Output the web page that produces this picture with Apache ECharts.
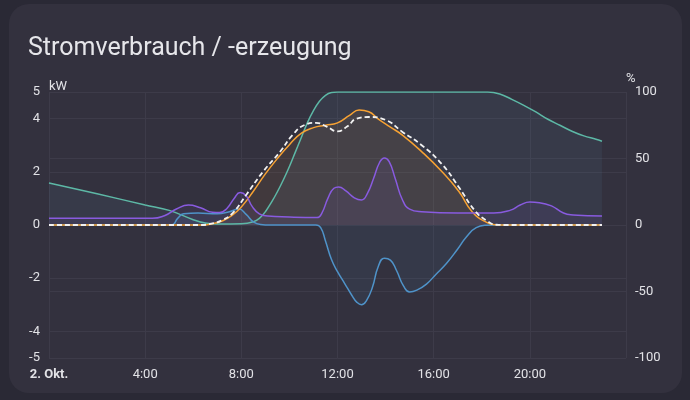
<!DOCTYPE html>
<html><head><meta charset="utf-8">
<script src="https://cdn.jsdelivr.net/npm/echarts@6/dist/echarts.min.js"></script>
<style>
html,body{margin:0;padding:0;background:#2a2935;width:690px;height:400px;overflow:hidden}
#card{position:absolute;left:9px;top:4px;width:673px;height:389px;background:#33313e;border-radius:20px}
#chart{position:absolute;left:0;top:0;width:690px;height:400px}
</style></head><body><div id="card"></div><div id="chart"></div>
<script>
// Battery state of charge (%), right axis
const socTimes  = [0, 2, 4, 5, 6, 6.5, 7, 8, 8.5, 8.75, 9, 9.25, 9.5, 9.75, 10, 10.25, 10.5, 10.75, 11, 11.25, 11.5, 11.75, 12, 18.25, 18.75, 19.25, 19.75, 20.25, 20.75, 21.25, 21.75, 22.25, 22.75, 23];
const socValues = [31.6, 23.5, 15, 11, 4, 1.5, 0.8, 1, 2.5, 5, 10, 17, 25, 34, 44, 55, 66, 77, 86, 93, 97.5, 99.6, 100, 100, 98.5, 94.5, 90, 85, 79.5, 75, 70.5, 67, 64.5, 63];
// Battery power (kW)
const batTimes  = [0, 5.1, 5.35, 5.6, 6.2, 7, 7.5, 7.9, 8.2, 8.5, 8.8, 9.2, 11.1, 11.3, 11.5, 11.75, 12.0, 12.3, 12.6, 12.8, 13.0, 13.2, 13.45, 13.7, 13.95, 14.2, 14.45, 14.75, 15.0, 15.3, 15.7, 16.1, 16.53, 17.0, 17.36, 17.77, 18.2, 18.6, 23];
const batValues = [0, 0, 0.25, 0.42, 0.45, 0.42, 0.5, 0.6, 0.4, 0.12, 0.02, 0, 0, -0.1, -0.6, -1.3, -1.75, -2.2, -2.65, -2.9, -3.0, -2.85, -2.35, -1.55, -1.25, -1.32, -1.7, -2.3, -2.52, -2.45, -2.22, -1.85, -1.45, -0.9, -0.45, -0.1, -0.01, 0, 0];
// Solar production (kW)
const pvTimes  = [0, 6.3, 6.8, 7.2, 7.6, 8, 8.5, 9, 9.5, 10, 10.5, 11, 11.5, 12, 12.5, 12.9, 13.3, 13.7, 14.2, 14.7, 15.5, 16.35, 17.05, 17.6, 18.2, 18.6, 19, 23];
const pvValues = [0, 0, 0.05, 0.15, 0.35, 0.68, 1.27, 1.92, 2.5, 3.02, 3.45, 3.66, 3.75, 3.84, 4.12, 4.32, 4.26, 3.98, 3.68, 3.38, 2.76, 2.0, 1.26, 0.5, 0.1, 0.01, 0, 0];
// Solar forecast (kW)
const fcTimes  = [0, 6.3, 6.8, 7.2, 7.64, 8.2, 8.9, 9.6, 10.13, 10.63, 11.1, 11.55, 12.0, 12.4, 12.8, 13.3, 14.0, 14.7, 15.5, 16.35, 17.05, 17.75, 18.2, 18.6, 19, 23];
const fcValues = [0, 0, 0.06, 0.18, 0.45, 1.13, 2.0, 2.74, 3.38, 3.76, 3.84, 3.7, 3.52, 3.7, 4.0, 4.06, 3.95, 3.5, 3.0, 2.28, 1.42, 0.5, 0.17, 0.01, 0, 0];
// Consumption (kW)
const useTimes  = [0, 4.3, 4.8, 5.3, 5.8, 6.3, 6.8, 7.1, 7.4, 7.7, 7.95, 8.2, 8.45, 8.75, 9.1, 10, 11.15, 11.35, 11.6, 11.85, 12.05, 12.35, 12.7, 13.0, 13.25, 13.5, 13.75, 13.95, 14.15, 14.4, 14.7, 15.0, 15.5, 17, 18.5, 19.2, 19.6, 20, 20.4, 20.9, 21.4, 21.8, 23];
const useValues = [0.25, 0.25, 0.35, 0.6, 0.75, 0.65, 0.48, 0.47, 0.62, 1.0, 1.22, 1.1, 0.7, 0.42, 0.34, 0.3, 0.28, 0.45, 1.0, 1.38, 1.43, 1.28, 1.02, 0.94, 1.2, 1.75, 2.35, 2.52, 2.38, 1.75, 0.95, 0.6, 0.5, 0.45, 0.45, 0.56, 0.75, 0.86, 0.84, 0.72, 0.45, 0.38, 0.34];

const hourTicks = [0, 4, 8, 12, 16, 20];
const dateLabel = '2. Okt.';

const pair = (t, v) => t.map((x, i) => [x, v[i]]);
const txt = '#e2e2e6';
const gridCol = '#3d3b49';

const chart = echarts.init(document.getElementById('chart'), null, {renderer: 'canvas'});
chart.setOption({
  animation: false,
  textStyle: {fontFamily: 'Roboto'},
  title: {
    text: 'Stromverbrauch / -erzeugung', left: 23, top: 31,
    textStyle: {color: '#e6e6ea', fontSize: 25, fontWeight: 'normal', fontFamily: 'Roboto'}
  },
  grid: {left: 49, right: 64, top: 92, bottom: 42},
  xAxis: {
    type: 'value', min: 0, max: 24, interval: 4,
    axisLine: {show: false}, axisTick: {show: false},
    splitLine: {show: true, lineStyle: {color: gridCol, width: 1}},
    axisLabel: {
      color: txt, fontSize: 13, margin: 10, showMaxLabel: false,
      formatter: v => v === 0 ? '{b|' + dateLabel + '}' : (hourTicks.includes(v) ? v + ':00' : ''),
      rich: {b: {fontWeight: 'bold', fontSize: 13, color: txt, fontFamily: 'Roboto'}}
    }
  },
  yAxis: [
    {
      type: 'value', min: -5, max: 5, position: 'left',
      name: 'kW', nameLocation: 'end', nameGap: 2,
      nameTextStyle: {color: txt, fontSize: 13, align: 'left', padding: [0, 0, -3, 0]},
      axisLine: {show: false}, axisTick: {show: false},
      splitLine: {show: true, lineStyle: {color: gridCol, width: 1}},
      axisLabel: {color: txt, fontSize: 13, margin: 9}
    },
    {
      type: 'value', min: -100, max: 100, position: 'right',
      name: '%', nameLocation: 'end', nameGap: 2,
      nameTextStyle: {color: txt, fontSize: 13, align: 'left', padding: [0, 0, -5, 0]},
      axisLine: {show: false}, axisTick: {show: false},
      splitLine: {show: true, lineStyle: {color: gridCol, width: 1}},
      axisLabel: {color: txt, fontSize: 13, margin: 9}
    }
  ],
  series: [
    {
      name: 'Batterie SoC', type: 'line', yAxisIndex: 1, smooth: 0.4, showSymbol: false,
      data: pair(socTimes, socValues),
      lineStyle: {color: '#5db8a6', width: 1.5},
      areaStyle: {color: 'rgba(100,160,190,0.13)'}
    },
    {
      name: 'Batterie', type: 'line', smooth: 0.5, showSymbol: false,
      data: pair(batTimes, batValues),
      lineStyle: {color: '#4f93c9', width: 1.5},
      areaStyle: {color: 'rgba(79,147,201,0.12)'}
    },
    {
      name: 'PV', type: 'line', smooth: 0.5, showSymbol: false,
      data: pair(pvTimes, pvValues),
      lineStyle: {color: '#f7a233', width: 1.5},
      areaStyle: {color: 'rgba(220,150,60,0.12)'}
    },
    {
      name: 'Verbrauch', type: 'line', smooth: 0.5, showSymbol: false,
      data: pair(useTimes, useValues),
      lineStyle: {color: '#895be0', width: 1.5},
      areaStyle: {color: 'rgba(137,91,224,0.12)'}
    },
    {
      name: 'Prognose', type: 'line', smooth: 0.5, showSymbol: false,
      data: pair(fcTimes, fcValues),
      lineStyle: {color: '#f2f2f2', width: 1.8, type: [5, 3]}
    }
  ]
});
</script>
</body></html>
